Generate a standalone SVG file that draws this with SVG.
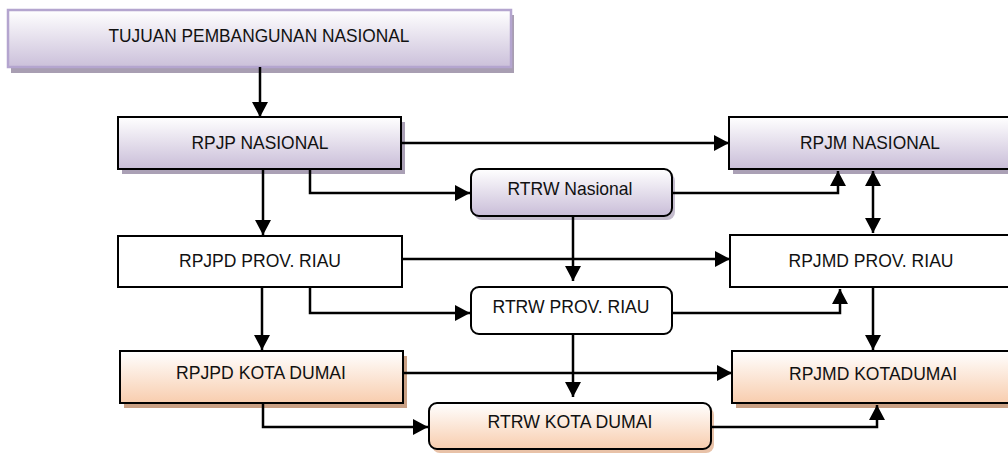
<svg xmlns="http://www.w3.org/2000/svg" width="1008" height="453" viewBox="0 0 1008 453">
<defs>
<linearGradient id="gP" x1="0" y1="0" x2="0" y2="1">
<stop offset="0" stop-color="#ffffff"/>
<stop offset="1" stop-color="#c9bdd8"/>
</linearGradient>
<linearGradient id="gT" x1="0" y1="0" x2="0" y2="1">
<stop offset="0" stop-color="#ffffff"/>
<stop offset="1" stop-color="#cbc0da"/>
</linearGradient>
<linearGradient id="gO" x1="0" y1="0" x2="0" y2="1">
<stop offset="0" stop-color="#ffffff"/>
<stop offset="1" stop-color="#f8cdae"/>
</linearGradient>
<marker id="ah" markerUnits="userSpaceOnUse" markerWidth="16" markerHeight="17" refX="15" refY="8" orient="auto-start-reverse">
<path d="M0,0 L15,8 L0,16 z" fill="#000"/>
</marker>
<style>
.t{font-family:"Liberation Sans",Arial,sans-serif;font-size:19px;fill:#111;text-anchor:middle}
.bx{stroke:#000;stroke-width:2}
.p{fill:url(#gP)}
.o{fill:url(#gO)}
.w{fill:#fff}
.sp{fill:#aaa0b5}
.so{fill:#c9a084}
.c{fill:none;stroke:#000;stroke-width:2.5}
.c1{marker-end:url(#ah)}
</style>
</defs>

<g id="tujuan">
<rect x="11" y="15" width="503" height="58" fill="#a89eb2"/>
<rect x="8" y="10" width="503" height="57" fill="url(#gT)" stroke="#b4a5cf" stroke-width="2.5"/>
<text class="t" x="259" y="42" textLength="301" lengthAdjust="spacingAndGlyphs">TUJUAN PEMBANGUNAN NASIONAL</text>
</g>

<g id="rpjp">
<rect class="sp" x="122" y="122" width="283" height="52"/>
<rect class="bx p" x="118" y="117" width="283" height="52"/>
<text class="t" x="260" y="149" textLength="137" lengthAdjust="spacingAndGlyphs">RPJP NASIONAL</text>
</g>

<g id="rpjm">
<rect class="sp" x="733" y="122" width="285" height="52"/>
<rect class="bx p" x="729" y="117" width="285" height="52"/>
<text class="t" x="870" y="149" textLength="140" lengthAdjust="spacingAndGlyphs">RPJM NASIONAL</text>
</g>

<g id="rtrw-nasional">
<rect x="474" y="173" width="201" height="47" rx="8" fill="#c4bccd"/>
<rect class="bx p" x="471" y="169" width="201" height="47" rx="8"/>
<text class="t" x="570" y="195" textLength="125" lengthAdjust="spacingAndGlyphs">RTRW Nasional</text>
</g>

<g id="rpjpd-prov">
<rect class="bx w" x="118" y="236" width="284" height="51"/>
<text class="t" x="260" y="267" textLength="162" lengthAdjust="spacingAndGlyphs">RPJPD PROV. RIAU</text>
</g>

<g id="rtrw-prov">
<rect class="bx w" x="471" y="287" width="201" height="47" rx="8"/>
<text class="t" x="571" y="313" textLength="157" lengthAdjust="spacingAndGlyphs">RTRW PROV. RIAU</text>
</g>

<g id="rpjmd-prov">
<rect class="bx w" x="730" y="235" width="285" height="52"/>
<text class="t" x="871" y="267" textLength="165" lengthAdjust="spacingAndGlyphs">RPJMD PROV. RIAU</text>
</g>

<g id="rpjpd-kota">
<rect class="so" x="124" y="356" width="283" height="52"/>
<rect class="bx o" x="120" y="351" width="283" height="52"/>
<text class="t" x="261" y="379" textLength="170" lengthAdjust="spacingAndGlyphs">RPJPD KOTA DUMAI</text>
</g>

<g id="rpjmd-kota">
<rect class="so" x="736" y="356" width="285" height="52"/>
<rect class="bx o" x="732" y="351" width="285" height="52"/>
<text class="t" x="873" y="380" textLength="168" lengthAdjust="spacingAndGlyphs">RPJMD KOTADUMAI</text>
</g>

<g id="rtrw-kota">
<rect x="432" y="407" width="282" height="46" rx="8" fill="#e8c2a8"/>
<rect class="bx o" x="429" y="403" width="282" height="46" rx="8"/>
<text class="t" x="570" y="428" textLength="165" lengthAdjust="spacingAndGlyphs">RTRW KOTA DUMAI</text>
</g>

<g id="connectors">
<path class="c c1" d="M260,67 V117"/>
<path class="c c1" d="M401,143 H729"/>
<path class="c c1" d="M310,169 V193 H470"/>
<path class="c c1" d="M263,169 V235"/>
<path class="c c1" d="M672,193 H838 V171"/>
<path class="c c1" d="M873,171 V233" style="marker-start:url(#ah)"/>
<path class="c c1" d="M402,259 H730"/>
<path class="c c1" d="M573,216 V281"/>
<path class="c c1" d="M310,287 V313 H470"/>
<path class="c c1" d="M672,313 H840 V289"/>
<path class="c c1" d="M262,287 V350"/>
<path class="c c1" d="M873,287 V350"/>
<path class="c c1" d="M403,373 H732"/>
<path class="c c1" d="M573,334 V397"/>
<path class="c c1" d="M263,403 V427 H428"/>
<path class="c c1" d="M711,427 H877 V405"/>
</g>
</svg>
